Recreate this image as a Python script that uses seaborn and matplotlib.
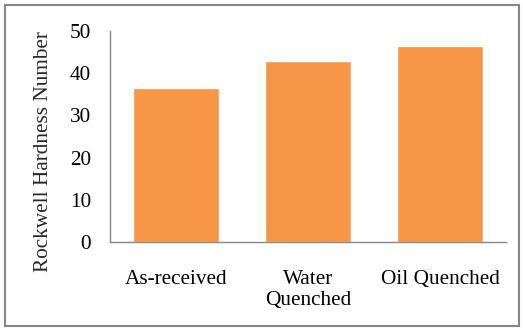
import matplotlib
matplotlib.use("Agg")
import matplotlib.pyplot as plt
import seaborn as sns
import pandas as pd
from matplotlib.patches import Rectangle

categories = ["As-received", "Water\nQuenched", "Oil Quenched"]
hardness = [36.5, 42.9, 46.4]
yticks = [0, 10, 20, 30, 40, 50]

sns.set_theme(style="white")
plt.rcParams['font.family'] = ['Liberation Serif', 'DejaVu Serif']

df = pd.DataFrame({"cat": categories, "val": hardness})

fig = plt.figure(figsize=(5.23, 3.35), dpi=100)
ax = fig.add_axes([0.2103, 0.2776, 0.7572, 0.6299])
sns.barplot(data=df, x="cat", y="val", color="#F79646", saturation=1, width=0.645, ax=ax)

ax.set_ylim(0, 50)
ax.set_yticks(yticks)
ax.set_xlim(-0.5, 2.5)
ax.set_xlabel("")
ax.set_ylabel("Rockwell Hardness Number", fontsize=15.3, labelpad=12)
ax.yaxis.set_label_coords(-0.145, 0.427)
ax.tick_params(axis="both", length=0, labelsize=15.3, colors="black")
ax.tick_params(axis="y", pad=13.5)
ax.tick_params(axis="x", pad=20)
for lbl in ax.get_xticklabels():
    lbl.set_linespacing(1.15)
    lbl.set_verticalalignment("top")
for s in ["top", "right"]:
    ax.spines[s].set_visible(False)
for s in ["left", "bottom"]:
    ax.spines[s].set_color("#868686")
    ax.spines[s].set_linewidth(1)

fig.patches.append(Rectangle((5/523, 9/335), 514/523, 321/335, transform=fig.transFigure,
                             fill=False, edgecolor="#868686", linewidth=1.5))

fig.savefig("out.png", dpi=100)
